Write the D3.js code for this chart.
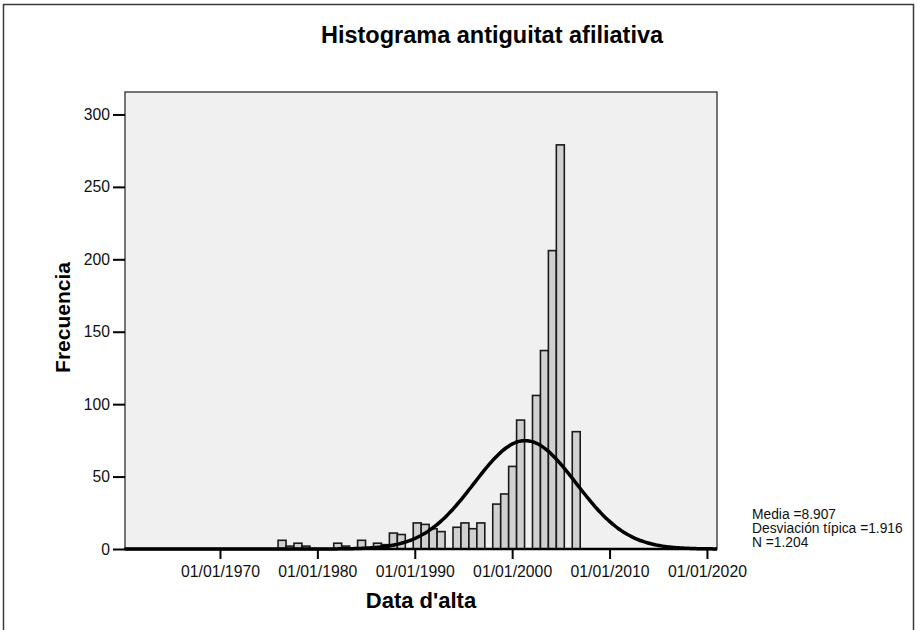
<!DOCTYPE html>
<html>
<head>
<meta charset="utf-8">
<script src="https://cdn.jsdelivr.net/npm/d3@7"></script>
<style>
  html, body { margin: 0; padding: 0; background: #ffffff; }
  svg { display: block; font-family: "Liberation Sans", Arial, sans-serif; }
</style>
</head>
<body>
<svg id="chart" width="917" height="630"></svg>
<script>
// ---- data ----
const titleText = "Histograma antiguitat afiliativa";
const xTitle = "Data d'alta";
const yTitle = "Frecuencia";
const histStart = "1975-12-20";   // left edge of first bin
const histEnd = "2006-12-27";     // right edge of last bin
const counts = [6, 2, 4, 2, 0, 0, 0, 4, 2, 0,
                6, 0, 4, 3, 11, 10, 0, 18, 17, 14,
                12, 0, 15, 18, 14, 18, 0, 31, 38, 57,
                89, 0, 106, 137, 206, 279, 0, 81];
const xTickYears = [1970, 1980, 1990, 2000, 2010, 2020];
const yTickValues = [0, 50, 100, 150, 200, 250, 300];
const normalMeanYear = 2001.33;
const normalSdYears = 5.24;
const nTotal = 1204;
const legendLines = ["Media =8.907", "Desviación típica =1.916", "N =1.204"];

// ---- layout ----
const svg = d3.select("#chart");
const plot = { left: 125, right: 717, top: 92, bottom: 549 };

// outer frame
svg.append("rect")
  .attr("x", 3.5).attr("y", 4.5)
  .attr("width", 910).attr("height", 640)
  .attr("fill", "#fff").attr("stroke", "#3a3a3a").attr("stroke-width", 1.5);

const x = d3.scaleTime()
  .domain([new Date("1960-04-01"), new Date("2021-01-12")])
  .range([plot.left, plot.right]);
const y = d3.scaleLinear()
  .domain([0, 315.5])
  .range([plot.bottom, plot.top]);

// plot background
svg.append("rect")
  .attr("x", plot.left).attr("y", plot.top)
  .attr("width", plot.right - plot.left).attr("height", plot.bottom - plot.top)
  .attr("fill", "#f0f0f0").attr("stroke", "#4a4a4a").attr("stroke-width", 1.5);

// bins
const t0 = new Date(histStart).getTime();
const t1 = new Date(histEnd).getTime();
const binMs = (t1 - t0) / counts.length;
const bins = counts.map((c, i) => ({
  x0: new Date(t0 + i * binMs),
  x1: new Date(t0 + (i + 1) * binMs),
  count: c
}));

svg.append("g").selectAll("rect")
  .data(bins.filter(d => d.count > 0))
  .join("rect")
  .attr("x", d => x(d.x0))
  .attr("y", d => y(d.count))
  .attr("width", d => x(d.x1) - x(d.x0))
  .attr("height", d => y(0) - y(d.count))
  .attr("fill", "#d0d0d0")
  .attr("stroke", "#1a1a1a")
  .attr("stroke-width", 1.6);

// normal curve
const msPerYear = 365.25 * 24 * 3600 * 1000;
const binYears = binMs / msPerYear;
const meanMs = new Date("1970-01-01").getTime() + (normalMeanYear - 1970) * msPerYear;
const curvePts = d3.range(plot.left, plot.right + 1, 2).map(px => {
  const dt = x.invert(px).getTime();
  const z = (dt - meanMs) / msPerYear / normalSdYears;
  const v = nTotal * binYears * Math.exp(-0.5 * z * z) / (normalSdYears * Math.sqrt(2 * Math.PI));
  return [x.invert(px), v];
});
svg.append("path")
  .datum(curvePts)
  .attr("fill", "none")
  .attr("stroke", "#000")
  .attr("stroke-width", 3.5)
  .attr("stroke-linejoin", "round")
  .attr("d", d3.line().x(d => x(d[0])).y(d => y(d[1])).curve(d3.curveBasis));

// x axis
const xAxis = d3.axisBottom(x)
  .tickValues(xTickYears.map(yr => new Date(yr + "-01-01T00:00:00")))
  .tickSize(10).tickPadding(7)
  .tickFormat(d => "01/01/" + d.getFullYear());
const gx = svg.append("g").attr("transform", `translate(0,${plot.bottom})`).call(xAxis);
gx.select(".domain").remove();
gx.selectAll("line").attr("stroke", "#000").attr("stroke-width", 2);
gx.selectAll("text").attr("font-size", 15.8).attr("fill", "#111")
  .attr("font-family", "Liberation Sans, Arial, sans-serif");

// y axis
const yAxis = d3.axisLeft(y).tickValues(yTickValues).tickSize(12).tickPadding(3);
const gy = svg.append("g").attr("transform", `translate(${plot.left},0)`).call(yAxis);
gy.select(".domain").remove();
gy.selectAll("line").attr("stroke", "#000").attr("stroke-width", 2);
gy.selectAll("text").attr("font-size", 15.7).attr("fill", "#111")
  .attr("font-family", "Liberation Sans, Arial, sans-serif");

// bottom axis line
svg.append("line")
  .attr("x1", plot.left - 1).attr("x2", plot.right)
  .attr("y1", plot.bottom).attr("y2", plot.bottom)
  .attr("stroke", "#000").attr("stroke-width", 2.5);

// titles
svg.append("text")
  .attr("x", 492).attr("y", 43)
  .attr("text-anchor", "middle")
  .attr("font-size", 23.5).attr("font-weight", "bold").attr("fill", "#000")
  .text(titleText);

svg.append("text")
  .attr("x", (plot.left + plot.right) / 2).attr("y", 608)
  .attr("text-anchor", "middle")
  .attr("font-size", 22).attr("font-weight", "bold").attr("fill", "#000")
  .text(xTitle);

svg.append("text")
  .attr("transform", `translate(69.5,${(plot.top + plot.bottom) / 2 - 3}) rotate(-90)`)
  .attr("text-anchor", "middle")
  .attr("font-size", 21).attr("font-weight", "bold").attr("fill", "#000")
  .text(yTitle);

// legend text
svg.append("g").selectAll("text")
  .data(legendLines)
  .join("text")
  .attr("x", 752)
  .attr("y", (d, i) => 519 + i * 14)
  .attr("font-size", 13.8).attr("fill", "#111")
  .text(d => d);
</script>
</body>
</html>
